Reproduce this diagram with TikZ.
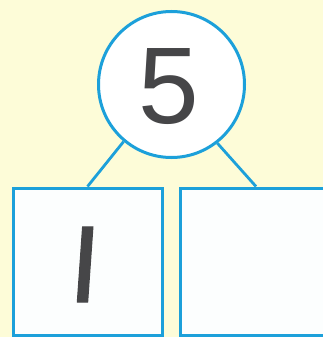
\documentclass[tikz,border=0pt]{standalone}
\usepackage{fontspec}
\newfontfamily\digitfont{Liberation Sans}
\newfontfamily\handfont[FakeSlant=0.07,FakeBold=1.2]{DejaVu Sans}
\definecolor{bg}{RGB}{253,252,216}
\definecolor{lineblue}{RGB}{28,160,218}
\definecolor{ink}{RGB}{70,70,72}
\definecolor{boxfill}{RGB}{252,254,254}
\tikzset{
  bond/.style={draw=lineblue, line width=3pt, fill=boxfill},
  partbox/.style={bond, rectangle, minimum width=149pt, minimum height=147pt, inner sep=0pt},
  wholecircle/.style={bond, circle, minimum size=146pt, inner sep=0pt, fill=white},
  link/.style={draw=lineblue, line width=2.8pt},
}
\begin{document}
\begin{tikzpicture}[x=1pt,y=-1pt]
\useasboundingbox (0,0) rectangle (323,337);
\fill[bg] (0,0) rectangle (323,337);
\node[partbox] (L) at (87.5,261.5) {};
\node[partbox, minimum width=152pt] (R) at (256,261.5) {};
\node[wholecircle] (W) at (171.5,84.5) {};
\draw[link] (W.230) -- (L.north);
\draw[link] (W.308) -- (R.north);
\node[anchor=base, inner sep=0pt, text=ink, font=\digitfont\fontsize{109}{109}\selectfont] (five) at (169,123) {5};
\node[anchor=base, inner sep=0pt, text=ink, font=\handfont\fontsize{103}{103}\selectfont] (one) at (82.5,302) {I};
\end{tikzpicture}
\end{document}
